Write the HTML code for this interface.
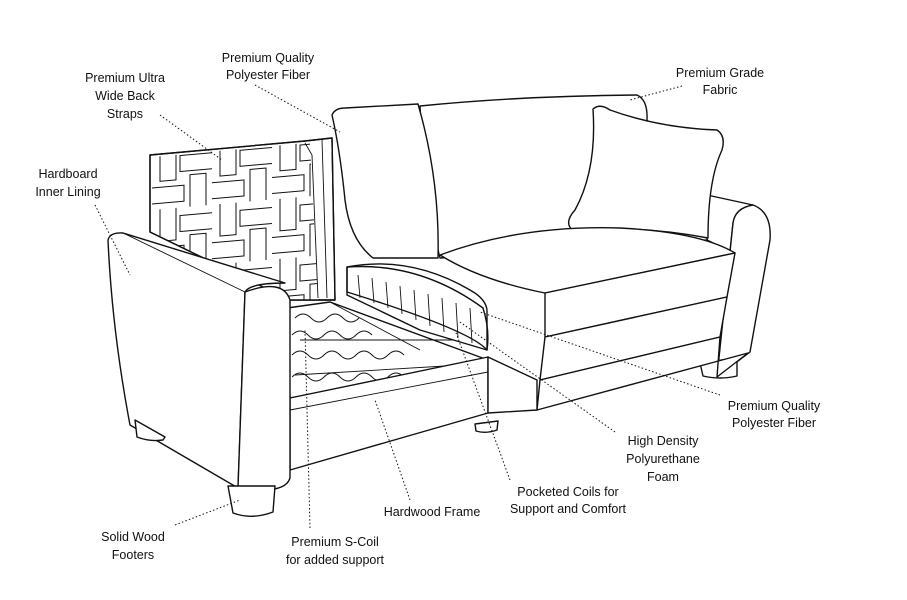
<!DOCTYPE html>
<html><head><meta charset="utf-8"><style>
html,body{margin:0;padding:0;background:#fff;width:907px;height:600px;overflow:hidden}
svg{display:block}
text{font-family:"Liberation Sans",Arial,sans-serif;font-size:12.5px;fill:#111;text-anchor:middle}
.l{fill:#fff;stroke:#111;stroke-width:1.4;stroke-linejoin:round}
.o{fill:none;stroke:#111;stroke-width:1.4;stroke-linejoin:round}
.t{fill:none;stroke:#111;stroke-width:0.9}
.d{fill:none;stroke:#111;stroke-width:1;stroke-dasharray:1.5 2.2}
</style></head><body>
<svg width="907" height="600" viewBox="0 0 907 600">
<defs>
<pattern id="weave" width="60" height="60" patternUnits="userSpaceOnUse" patternTransform="translate(152,150) skewY(-5)">
<rect width="60" height="60" fill="#fff"/>
<g fill="#fff" stroke="#111" stroke-width="1">
<rect x="8" y="-2" width="16" height="34"/>
<rect x="28" y="8" width="34" height="16"/>
<rect x="-2" y="38" width="34" height="16"/>
<rect x="38" y="28" width="16" height="34"/>
</g>
</pattern>
<clipPath id="fr"><path d="M152,157 L305,143 L310,143 L318,300 L290,300 L152,232 Z"/></clipPath>
</defs>
<!-- right arm -->
<path class="l" d="M707,195 L753,205 Q735,210 733,223 L717,377 L727,297 L733,253 L707,240 Z"/>
<path class="l" d="M753,205 Q772,212 770,240 L750,352 L717,377 L733,223 Q735,208 753,205 Z"/>
<path class="l" d="M700,363 L737,358 L737,376 Q720,380 703,376 Z"/>
<!-- main back cushion -->
<path class="l" d="M420,106 Q520,96 637,95 Q648,100 647,120 L707,195 L707,240 L440,258 Q425,200 420,106 Z"/>
<!-- pillow -->
<path class="l" d="M593,109 Q600,103 610,110 Q660,128 717,130 Q726,136 722,150 Q708,180 708,238 Q640,225 572,230 Q564,222 575,210 Q597,170 593,109 Z"/>
<!-- back strap frame -->
<path class="l" d="M150,155 L305,141 L332,138 L335,300 L290,300 L150,232 Z"/>
<rect x="150" y="130" width="190" height="175" fill="url(#weave)" clip-path="url(#fr)"/>
<path class="o" d="M150,155 L305,141 L332,138 L335,300 L290,300 L150,232 Z"/>
<path class="t" d="M305,143 L312,155 L318,298 M322,140 L327,298"/>
<!-- left back cushion -->
<path class="l" d="M332,115 Q335,108 345,108 L418,104 Q440,180 438,258 L373,258 Q350,240 345,200 Q340,150 332,115 Z"/>
<!-- right seat cushion -->
<path class="l" d="M440,255 Q520,225 620,228 Q700,232 735,253 L545,293 Q480,280 440,255 Z"/>
<path class="l" d="M545,293 L735,253 L727,297 L545,337 Z"/>
<path class="l" d="M545,337 L727,297 L720,337 L540,380 Z"/>
<path class="l" d="M540,380 L720,337 L717,377 L748,353 L537,410 Z"/>
<!-- seat springs area -->
<path class="l" d="M287,308 L330,302 L488,360 L290,398 Z"/>
<g class="t">
<path d="M330,302 L420,350 M300,340 L470,340 M295,375 L462,365"/>
<path d="M295,318 q8,-8 16,0 q8,8 16,0 q8,-8 16,0 q8,8 16,0"/>
<path d="M292,335 q8,-8 16,0 q8,8 16,0 q8,-8 16,0 q8,8 16,0 q8,-8 16,0"/>
<path d="M292,355 q8,-8 16,0 q8,8 16,0 q8,-8 16,0 q8,8 16,0 q8,-8 16,0 q8,8 16,0 q8,-8 16,0"/>
<path d="M292,377 q8,-8 16,0 q8,8 16,0 q8,-8 16,0 q8,8 16,0 q8,-8 16,0 q8,8 16,0 q8,-8 16,0 q8,8 16,0"/>
</g>
<!-- cut seat cushion -->
<path class="l" d="M347,267 Q410,255 470,290 Q488,300 487,313 L487,350 L420,330 L347,295 Z"/>
<path class="o" d="M347,267 Q420,262 483,308 Q490,330 487,350 Q470,330 347,292 Z"/>
<g class="t"><path d="M358,275 L360,298 M372,278 L374,303 M386,282 L388,308 M400,286 L402,314 M414,290 L416,320 M428,294 L430,326 M442,298 L444,332 M456,303 L458,338 M470,308 L472,343"/></g>
<!-- left front base -->
<path class="l" d="M290,398 L488,357 L488,413 L290,470 Z"/>
<path class="t" d="M290,410 L488,372"/>
<path class="l" d="M488,357 L537,380 L537,410 L488,413 Z"/>
<path class="l" d="M475,424 L498,421 L497,430 Q486,434 476,431 Z"/>
<!-- left arm -->
<path class="l" d="M108,240 Q110,232 123,233 L285,283 Q250,283 245,292 L238,488 L130,425 Q112,330 108,240 Z"/>
<path class="l" d="M245,292 Q283,278 290,300 L290,478 Q285,495 238,488 Z"/>
<path class="t" d="M123,233 L245,292"/>
<path class="l" d="M135,420 L165,437 L163,440 Q150,442 137,437 Z"/>
<path class="l" d="M228,486 L275,486 L273,512 Q252,520 233,513 Z"/>
<!-- leader lines -->
<g class="d">
<path d="M255,85 L340,132"/><path d="M160,115 L222,160"/><path d="M95,205 L130,275"/>
<path d="M682,86 L630,100"/><path d="M720,395 L480,312"/><path d="M615,432 L460,322"/>
<path d="M510,480 L455,330"/><path d="M410,500 L375,400"/><path d="M310,528 L305,330"/>
<path d="M175,525 L240,500"/>
</g>
<!-- labels -->
<text x="268" y="62">Premium Quality</text><text x="268" y="79">Polyester Fiber</text>
<text x="125" y="82">Premium Ultra</text><text x="125" y="100">Wide Back</text><text x="125" y="118">Straps</text>
<text x="68" y="178">Hardboard</text><text x="68" y="196">Inner Lining</text>
<text x="720" y="77">Premium Grade</text><text x="720" y="94">Fabric</text>
<text x="774" y="410">Premium Quality</text><text x="774" y="427">Polyester Fiber</text>
<text x="663" y="445">High Density</text><text x="663" y="463">Polyurethane</text><text x="663" y="481">Foam</text>
<text x="568" y="496">Pocketed Coils for</text><text x="568" y="513">Support and Comfort</text>
<text x="432" y="516">Hardwood Frame</text>
<text x="335" y="546">Premium S-Coil</text><text x="335" y="564">for added support</text>
<text x="133" y="541">Solid Wood</text><text x="133" y="559">Footers</text>
</svg>
</body></html>
